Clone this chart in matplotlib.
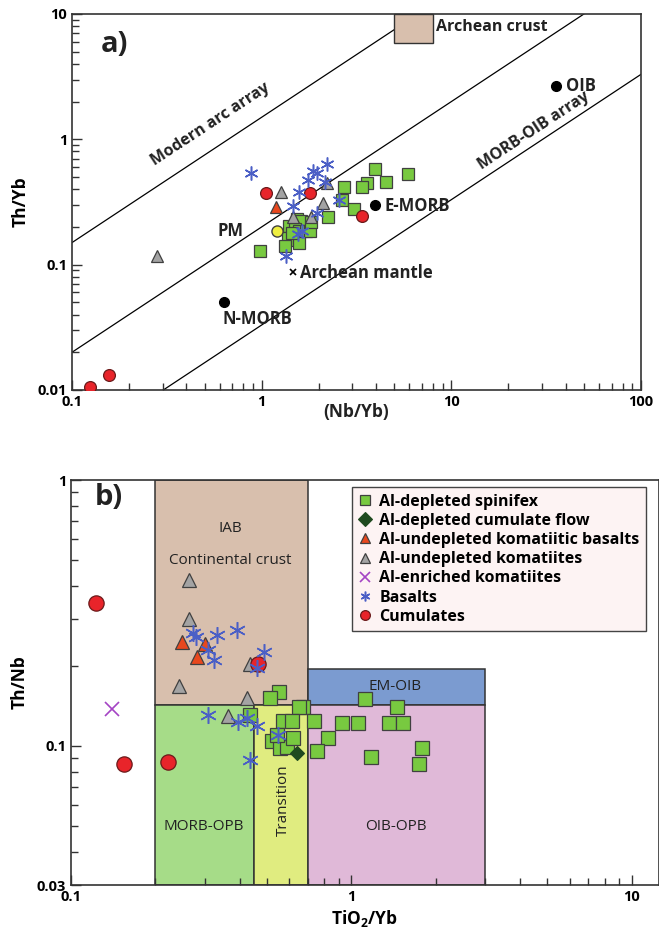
import numpy as np
import matplotlib
matplotlib.use("Agg")
import matplotlib.pyplot as plt
from matplotlib.patches import Rectangle
from matplotlib.lines import Line2D
from matplotlib.ticker import NullFormatter

plt.rcParams['font.family'] = ['Open Sans', 'DejaVu Sans']
plt.rcParams['mathtext.default'] = 'regular'

# ---------------- panel a: Th/Yb vs Nb/Yb ----------------
spin_a_x = [3.98, 5.94, 4.55, 3.57, 3.40, 2.73, 2.64, 3.05, 2.25, 0.975, 1.53, 1.62,
            1.40, 1.49, 1.58, 1.72, 1.37, 1.46, 1.58, 1.79, 1.45, 1.32, 1.83]
spin_a_y = [0.575, 0.525, 0.453, 0.445, 0.42, 0.413, 0.325, 0.28, 0.242, 0.129, 0.233, 0.225,
            0.205, 0.194, 0.187, 0.184, 0.164, 0.156, 0.15, 0.187, 0.18, 0.142, 0.217]
bas_a_x = [0.875, 2.22, 1.95, 1.75, 2.15, 1.58, 1.46, 1.95, 2.57, 1.55, 1.64, 1.34, 1.86]
bas_a_y = [0.535, 0.63, 0.535, 0.47, 0.453, 0.377, 0.296, 0.256, 0.325, 0.177, 0.187, 0.118, 0.56]
kom_a_x = [1.27, 2.2, 2.1, 1.46, 1.83, 0.28]
kom_a_y = [0.377, 0.445, 0.313, 0.242, 0.238, 0.118]
kb_a_x = [1.19]
kb_a_y = [0.286]
cum_a_x = [1.06, 1.79, 3.36, 0.125, 0.157]
cum_a_y = [0.37, 0.37, 0.246, 0.0106, 0.0132]

ref_names = ['OIB', 'E-MORB', 'N-MORB']
ref_x = [35.7, 3.94, 0.63]
ref_y = [2.65, 0.30, 0.05]
pm_x, pm_y = 1.2, 0.187
am_x, am_y = 1.46, 0.088

# Th/Yb = k * Nb/Yb reference lines
array_ratios = [1.5, 0.2, 0.033]
crust_box = (5.0, 8.0, 5.9, 10.0)  # Nb/Yb min/max, Th/Yb min/max

# ---------------- panel b: Th/Nb vs TiO2/Yb ----------------
spin_b_x = [0.552, 0.512, 0.671, 0.65, 0.734, 0.57, 0.614, 0.925, 1.06, 1.36, 1.53, 1.12,
            1.46, 0.824, 0.754, 1.17, 1.78, 1.74, 0.521, 0.556, 0.589, 0.618, 0.542, 0.435]
spin_b_y = [0.16, 0.151, 0.14, 0.14, 0.124, 0.124, 0.124, 0.122, 0.122, 0.122, 0.122, 0.15,
            0.14, 0.107, 0.096, 0.091, 0.098, 0.0856, 0.104, 0.098, 0.099, 0.107, 0.11, 0.131]
cflow_b_x = [0.64]
cflow_b_y = [0.094]
kb_b_x = [0.249, 0.30, 0.281]
kb_b_y = [0.246, 0.242, 0.216]
kom_b_x = [0.264, 0.264, 0.243, 0.424, 0.363, 0.435]
kom_b_y = [0.421, 0.30, 0.168, 0.151, 0.13, 0.203]
enr_b_x = [0.14]
enr_b_y = [0.138]
bas_b_x = [0.272, 0.28, 0.331, 0.391, 0.308, 0.324, 0.487, 0.46, 0.424, 0.46, 0.547,
           0.435, 0.308, 0.394]
bas_b_y = [0.266, 0.257, 0.261, 0.273, 0.23, 0.21, 0.226, 0.197, 0.127, 0.119, 0.11,
           0.0886, 0.131, 0.123]
cum_b_x = [0.123, 0.155, 0.222, 0.464]
cum_b_y = [0.345, 0.0856, 0.087, 0.203]

# fields: x0, x1, y0, y1
field_names = ['IAB', 'MORB-OPB', 'Transition', 'EM-OIB', 'OIB-OPB']
field_x0 = [0.2, 0.2, 0.45, 0.7, 0.7]
field_x1 = [0.7, 0.45, 0.7, 3.0, 3.0]
field_y0 = [0.143, 0.03, 0.03, 0.143, 0.03]
field_y1 = [1.0, 0.143, 0.143, 0.195, 0.143]
field_colors = ['#d8bfad', '#a6dc88', '#e0ec80', '#7b9bd0', '#e0b9d8']

# marker styles
EDGE = '#404040'
sty = {
    'spin': dict(marker='s', mfc='#78c940', mec=EDGE, mew=0.9),
    'cflow': dict(marker='D', mfc='#1f4a1f', mec='#1f4a1f', mew=0.8),
    'kb': dict(marker='^', mfc='#e8481e', mec=EDGE, mew=0.9),
    'kom': dict(marker='^', mfc='#a3a3a3', mec=EDGE, mew=0.9),
    'enr': dict(marker='x', color='#a444c4', mew=1.2),
    'bas': dict(marker=(6, 2, 0), color='#4b5fc6', mew=1.1),
    'cum': dict(marker='o', mfc='#e8242a', mec='#6a1a1a', mew=0.9),
}

fig = plt.figure(figsize=(6.59, 9.39), dpi=100)
ax1 = fig.add_axes([0.1093, 0.5847, 0.8634, 0.4004])
ax2 = fig.add_axes([0.1077, 0.0575, 0.8923, 0.4313])

for ax in (ax1, ax2):
    ax.set_xscale('log')
    ax.set_yscale('log')
    ax.tick_params(which='both', direction='in', top=False, right=False,
                   labelsize=10.5, width=1.0, color='#333333')
    ax.tick_params(which='major', length=7)
    ax.tick_params(which='minor', length=5)
    for s in ax.spines.values():
        s.set_linewidth(1.2)
        s.set_color('#333333')

# ---- panel a ----
ax1.set_xlim(0.1, 100)
ax1.set_ylim(0.01, 10)
xx = np.array([0.1, 100])
for k in array_ratios:
    ax1.plot(xx, k * xx, color='black', lw=0.9, zorder=1)
ax1.add_patch(Rectangle((crust_box[0], crust_box[2]), crust_box[1] - crust_box[0],
                        crust_box[3] - crust_box[2], facecolor='#d8bfad',
                        edgecolor='#333333', lw=1.0, zorder=2, clip_on=False))
ax1.text(8.3, 7.9, 'Archean crust', fontsize=11.5, fontweight='bold', ha='left', va='center',
         color='#222222')

ax1.plot(spin_a_x, spin_a_y, ls='none', ms=8.5, zorder=3, **sty['spin'])
ax1.plot(kb_a_x, kb_a_y, ls='none', ms=8, zorder=3, **sty['kb'])
ax1.plot(kom_a_x, kom_a_y, ls='none', ms=8, zorder=3, **sty['kom'])
ax1.plot(cum_a_x, cum_a_y, ls='none', ms=8.5, zorder=3, **sty['cum'])
ax1.plot(bas_a_x, bas_a_y, ls='none', ms=10, zorder=4, **sty['bas'])

ax1.plot(ref_x, ref_y, ls='none', marker='o', ms=7, color='black', zorder=4)
ax1.plot([pm_x], [pm_y], ls='none', marker='o', ms=8, mfc='#eeee40', mec=EDGE, zorder=4)
ax1.plot([am_x], [am_y], ls='none', marker='x', ms=4.5, mew=1.2, color='black', zorder=4)

offs = [(7, 0, 'left'), (7, -1, 'left'), (24, -12, 'center')]
for name, x, y, (dx, dy, ha) in zip(ref_names, ref_x, ref_y, offs):
    ax1.annotate(name, (x, y), xytext=(dx, dy), textcoords='offset points',
                 ha=ha, va='center', fontsize=12, fontweight='bold', color='#222222')
ax1.annotate('PM', (pm_x, pm_y), xytext=(-33, 0), textcoords='offset points',
             ha='center', va='center', fontsize=12, fontweight='bold', color='#222222')
ax1.annotate('Archean mantle', (am_x, am_y), xytext=(5, -1), textcoords='offset points',
             ha='left', va='center', fontsize=12, fontweight='bold', color='#222222')

ax1.text(0.2425, 0.707, 'Modern arc array', transform=ax1.transAxes, rotation=33.3,
         ha='center', va='center', fontsize=11.5, fontweight='bold', color='#222222')
ax1.text(0.812, 0.689, 'MORB-OIB array', transform=ax1.transAxes, rotation=33.3,
         ha='center', va='center', fontsize=11.5, fontweight='bold', color='#222222')
ax1.text(0.05, 0.918, 'a)', transform=ax1.transAxes, ha='left', va='center',
         fontsize=21, fontweight='bold', color='#222222')

ax1.set_xticks([0.1, 1, 10, 100])
ax1.set_xticklabels(['0.1', '1', '10', '100'], fontweight='bold')
ax1.set_yticks([0.01, 0.1, 1, 10])
ax1.set_yticklabels(['0.01', '0.1', '1', '10'], fontweight='bold')
ax1.xaxis.set_minor_formatter(NullFormatter())
ax1.yaxis.set_minor_formatter(NullFormatter())
ax1.text(0.5, -0.058, '(Nb/Yb)', transform=ax1.transAxes, ha='center', va='center',
         fontsize=12.5, fontweight='bold', color='#222222')
ax1.set_ylabel('Th/Yb', fontsize=12.5, fontweight='bold', labelpad=6)

# ---- panel b ----
ax2.set_xlim(0.1, 12.5)
ax2.set_ylim(0.03, 1)
for x0, x1, y0, y1, c in zip(field_x0, field_x1, field_y0, field_y1, field_colors):
    ax2.add_patch(Rectangle((x0, y0), x1 - x0, y1 - y0, facecolor=c,
                            edgecolor='#333333', lw=1.1, zorder=1))

lab = dict(ha='center', va='center', fontsize=11, color='#222222', zorder=2)
ax2.text(0.369, 0.655, 'IAB', **lab)
ax2.text(0.369, 0.496, 'Continental crust', **lab)
ax2.text(1.43, 0.168, 'EM-OIB', **lab)
ax2.text(0.298, 0.05, 'MORB-OPB', **lab)
ax2.text(0.57, 0.0626, 'Transition', rotation=90, **lab)
ax2.text(1.44, 0.05, 'OIB-OPB', **lab)

ax2.plot(spin_b_x, spin_b_y, ls='none', ms=10, zorder=3, **sty['spin'])
ax2.plot(cflow_b_x, cflow_b_y, ls='none', ms=7, zorder=3, **sty['cflow'])
ax2.plot(kb_b_x, kb_b_y, ls='none', ms=10, zorder=3, **sty['kb'])
ax2.plot(kom_b_x, kom_b_y, ls='none', ms=10, zorder=3, **sty['kom'])
ax2.plot(enr_b_x, enr_b_y, ls='none', ms=10, zorder=3, **sty['enr'])
ax2.plot(cum_b_x, cum_b_y, ls='none', ms=11, zorder=3, **sty['cum'])
ax2.plot(bas_b_x, bas_b_y, ls='none', ms=12, zorder=4, **sty['bas'])

ax2.text(0.04, 0.957, 'b)', transform=ax2.transAxes, ha='left', va='center',
         fontsize=21, fontweight='bold', color='#222222')

leg_labels = ['Al-depleted spinifex', 'Al-depleted cumulate flow',
              'Al-undepleted komatiitic basalts', 'Al-undepleted komatiites',
              'Al-enriched komatiites', 'Basalts', 'Cumulates']
leg_keys = ['spin', 'cflow', 'kb', 'kom', 'enr', 'bas', 'cum']
handles = [Line2D([], [], ls='none', ms=7, **sty[k]) for k in leg_keys]
leg = ax2.legend(handles, leg_labels, loc='upper left', bbox_to_anchor=(0.478, 0.982),
                 borderaxespad=0, frameon=True, fancybox=False, handlelength=0.8,
                 handletextpad=0.5, labelspacing=0.2, borderpad=0.4,
                 prop=dict(size=11.5, weight='bold'))
leg.get_frame().set_facecolor('#fdf3f3')
leg.get_frame().set_edgecolor('#444444')
leg.get_frame().set_linewidth(1.0)
leg.get_frame().set_alpha(1)
leg.set_zorder(5)

ax2.set_xticks([0.1, 1, 10])
ax2.set_xticklabels(['0.1', '1', '10'], fontweight='bold')
ax2.set_yticks([0.03, 0.1, 1])
ax2.set_yticklabels(['0.03', '0.1', '1'], fontweight='bold')
ax2.xaxis.set_minor_formatter(NullFormatter())
ax2.yaxis.set_minor_formatter(NullFormatter())
ax2.set_xlabel('TiO$_2$/Yb', fontsize=12.5, fontweight='bold', labelpad=3)
ax2.set_ylabel('Th/Nb', fontsize=12.5, fontweight='bold', labelpad=6)

fig.savefig('out.png', dpi=100)
